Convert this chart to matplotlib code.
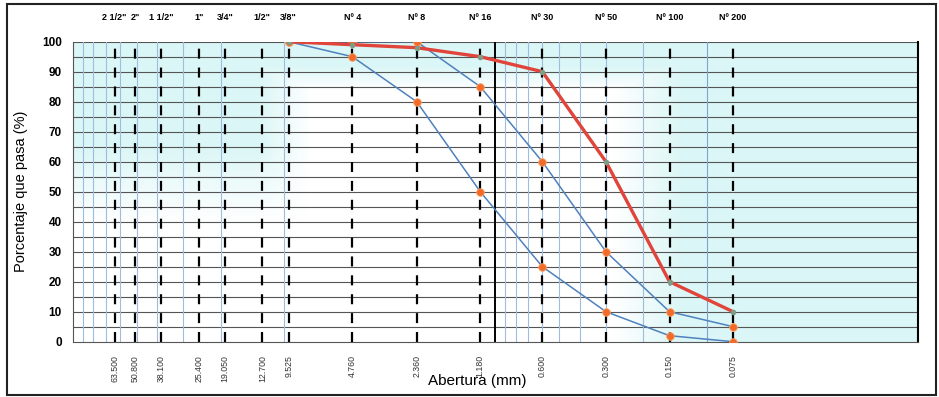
import matplotlib.pyplot as plt
import matplotlib.transforms as mtransforms
import numpy as np

plt.rcParams['font.family'] = ['Liberation Sans', 'DejaVu Sans']

# tamices (abertura en mm) y nombres
aberturas = [63.5, 50.8, 38.1, 25.4, 19.05, 12.7, 9.525, 4.76, 2.36, 1.18, 0.6, 0.3, 0.15, 0.075]
etiquetas_tamiz = ['2 1/2"', '2"', '1 1/2"', '1"', '3/4"', '1/2"', '3/8"',
                   'Nº 4', 'Nº 8', 'Nº 16', 'Nº 30', 'Nº 50', 'Nº 100', 'Nº 200']
etiquetas_mm = ['63.500', '50.800', '38.100', '25.400', '19.050', '12.700', '9.525',
                '4.760', '2.360', '1.180', '0.600', '0.300', '0.150', '0.075']

# curvas (desde 3/8" hasta Nº 200)
tamices_curva = [9.525, 4.76, 2.36, 1.18, 0.6, 0.3, 0.15, 0.075]
curva_roja = [100, 99, 98, 95, 90, 60, 20, 10]
limite_superior = [100, 100, 100, 85, 60, 30, 10, 5]
limite_inferior = [100, 95, 80, 50, 25, 10, 2, 0]

fig = plt.figure(figsize=(9.39, 3.97), dpi=100)
ax = fig.add_axes([0.0777, 0.1393, 0.8999, 0.7557])
ax.set_xscale('log')
ax.set_xlim(100, 0.01)
ax.set_ylim(0, 100)

# fondo celeste (marca de agua del escaneo)
ny, nx = 200, 400
yy, xx = np.mgrid[0:1:ny * 1j, 0:1:nx * 1j]
a_left = np.clip((yy - 0.4) / 0.25, 0, 1) * np.clip((0.28 - xx) / 0.06, 0, 1)
a_right = np.clip((xx - 0.64) / 0.08, 0, 1)
a_mid = np.clip((yy - 0.84) / 0.08, 0, 1)
alpha = np.maximum.reduce([a_left, a_right, a_mid])
img = np.zeros((ny, nx, 4))
img[..., 0] = 0.86
img[..., 1] = 0.965
img[..., 2] = 0.965
img[..., 3] = alpha
ax.imshow(img, extent=[0, 1, 0, 1], transform=ax.transAxes, origin='lower',
          aspect='auto', zorder=0)

# grilla horizontal cada 5 %
for y in np.arange(5, 101, 5):
    ax.axhline(y, color='#555555', lw=0.8, zorder=1)

# grilla logarítmica menor (celeste) en dos décadas
for d in [10, 0.1]:
    for k in range(2, 10):
        ax.axvline(k * d, color='#9dbde0', lw=0.8, zorder=1)
ax.axvline(10, color='#9dbde0', lw=0.8, zorder=1)
ax.axvline(0.1, color='#7fa2d2', lw=0.8, zorder=1)
ax.axvline(1, color='black', lw=1.4, zorder=2)

# tamices
for a in aberturas:
    ax.axvline(a, color='black', lw=1.6, linestyle=(0, (4.5, 4)), zorder=2)

# curvas
ax.plot(tamices_curva, limite_superior, color='#4f81bd', lw=1.1, zorder=3,
        marker='o', ms=5.5, mfc='#f26b2a', mec='#f9a060', mew=0.6)
ax.plot(tamices_curva, limite_inferior, color='#4f81bd', lw=1.1, zorder=3,
        marker='o', ms=5.5, mfc='#f26b2a', mec='#f9a060', mew=0.6)
ax.plot(tamices_curva, curva_roja, color='#e0443a', lw=2.4, zorder=4,
        marker='o', ms=3, mfc='#7f9c86', mec='#7f9c86')

ax.set_xticks([])
ax.set_xticks([], minor=True)
ax.set_yticks(np.arange(0, 101, 10))
ax.tick_params(axis='y', length=0, pad=8)
for lbl in ax.get_yticklabels():
    lbl.set_fontweight('bold')
    lbl.set_fontsize(8.5)

for s in ['left', 'bottom']:
    ax.spines[s].set_color('#555555')
    ax.spines[s].set_linewidth(0.8)
ax.spines['top'].set_visible(False)
ax.spines['right'].set_color('black')
ax.spines['right'].set_linewidth(1.5)

trans = mtransforms.blended_transform_factory(ax.transData, ax.transAxes)
for a, t in zip(aberturas, etiquetas_tamiz):
    ax.text(a, 1.08, t, transform=trans, ha='center', va='center',
            fontsize=6.5, fontweight='bold')
for a, t in zip(aberturas, etiquetas_mm):
    ax.text(a, -0.045, t, transform=trans, ha='center', va='top',
            rotation=90, fontsize=6.3, color='#333333')

ax.set_ylabel('Porcentaje que pasa (%)', fontsize=10.5, labelpad=10)
fig.text(0.508, 0.04, 'Abertura (mm)', ha='center', va='center', fontsize=11)

# marco exterior
fig.patches.append(plt.Rectangle((7 / 939, 2 / 397), 929 / 939, 391 / 397,
                                 transform=fig.transFigure, fill=False,
                                 edgecolor='#222222', lw=1.5))

fig.savefig('out.png', dpi=100)
